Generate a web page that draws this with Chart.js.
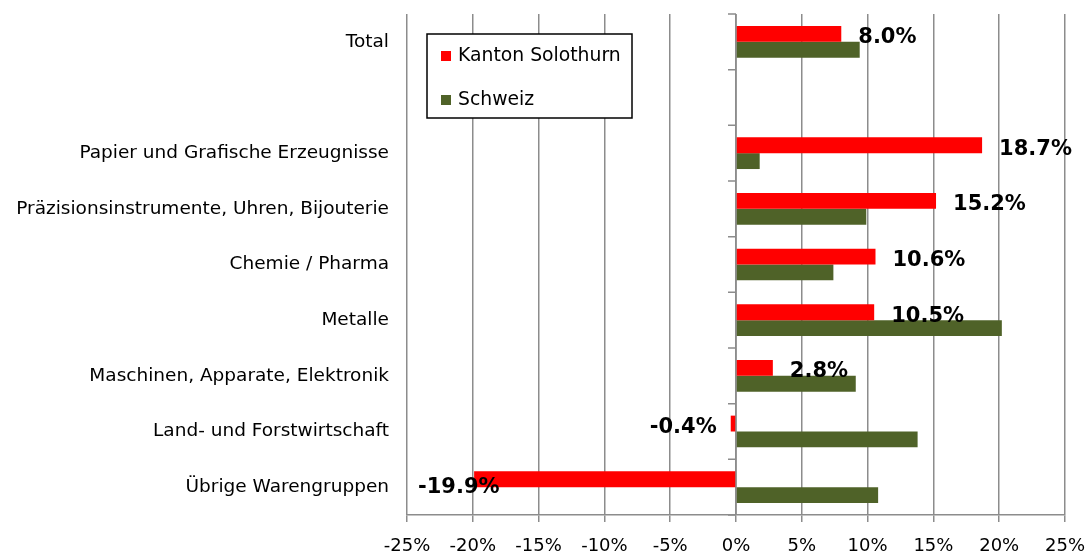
<!DOCTYPE html>
<html>
<head>
<meta charset="utf-8">
<script src="https://cdn.jsdelivr.net/npm/chart.js@4/dist/chart.umd.min.js"></script>
<style>
  html, body { margin: 0; padding: 0; background: #fff; }
  #wrap { width: 1090px; height: 555px; }
</style>
</head>
<body>
<div id="wrap"><canvas id="chart" width="1090" height="555"></canvas></div>
<script>
const categories = [
  "Total",
  "",
  "Papier und Grafische Erzeugnisse",
  "Präzisionsinstrumente, Uhren, Bijouterie",
  "Chemie / Pharma",
  "Metalle",
  "Maschinen, Apparate, Elektronik",
  "Land- und Forstwirtschaft",
  "Übrige Warengruppen",
];
const solothurn = [8.0, null, 18.7, 15.2, 10.6, 10.5, 2.8, -0.4, -19.9];
const schweiz = [9.4, null, 1.8, 9.9, 7.4, 20.2, 9.1, 13.8, 10.8];
const xTicks = [-25, -20, -15, -10, -5, 0, 5, 10, 15, 20, 25];

const FONT = "'DejaVu Sans', sans-serif";
const GRID = "#8c8c8c";

// axis line through zero with small tick marks between the categories
const zeroAxis = {
  id: "zeroAxis",
  beforeDatasetsDraw(chart) {
    const { ctx, chartArea, scales } = chart;
    const x0 = scales.x.getPixelForValue(0);
    ctx.save();
    ctx.strokeStyle = GRID;
    ctx.lineWidth = 1.5;
    ctx.beginPath();
    ctx.moveTo(x0, chartArea.top);
    ctx.lineTo(x0, chartArea.bottom);
    const n = scales.y.ticks.length;
    for (let i = 0; i <= n; i++) {
      const y = scales.y.getPixelForValue(i - 0.5);
      ctx.moveTo(x0 - 8, y);
      ctx.lineTo(x0, y);
    }
    ctx.stroke();
    ctx.restore();
  },
};

// bold value labels next to the Solothurn bars
const valueLabels = {
  id: "valueLabels",
  afterDatasetsDraw(chart) {
    const { ctx, chartArea } = chart;
    const meta = chart.getDatasetMeta(0);
    ctx.save();
    ctx.font = "bold 21px " + FONT;
    ctx.fillStyle = "#000";
    ctx.textBaseline = "middle";
    meta.data.forEach((bar, i) => {
      const v = solothurn[i];
      if (v === null) return;
      const txt = v.toFixed(1) + "%";
      const y = bar.y + 4;
      if (v >= 0) {
        ctx.textAlign = "left";
        ctx.fillText(txt, bar.x + 17, y);
      } else {
        const w = ctx.measureText(txt).width;
        let x = bar.x - 14 - w;
        if (x < chartArea.left + 11) x = chartArea.left + 11;
        ctx.textAlign = "left";
        ctx.fillText(txt, x, v < -5 ? y + 4 : y);
      }
    });
    ctx.restore();
  },
};

// legend box inside the plot
const legendBox = {
  id: "legendBox",
  afterDraw(chart) {
    const { ctx } = chart;
    const bx = 427, by = 34, bw = 205, bh = 84;
    ctx.save();
    ctx.fillStyle = "#fff";
    ctx.fillRect(bx, by, bw, bh);
    ctx.strokeStyle = "#000";
    ctx.lineWidth = 1.5;
    ctx.strokeRect(bx, by, bw, bh);
    ctx.font = "18.8px " + FONT;
    ctx.textBaseline = "middle";
    ctx.textAlign = "left";
    chart.data.datasets.forEach((ds, i) => {
      const cy = by + 22 + i * 44;
      ctx.fillStyle = ds.backgroundColor;
      ctx.fillRect(bx + 14, cy - 5, 10, 10);
      ctx.fillStyle = "#000";
      ctx.fillText(ds.label, bx + 31, cy);
    });
    ctx.restore();
  },
};

new Chart(document.getElementById("chart"), {
  type: "bar",
  data: {
    labels: categories,
    datasets: [
      {
        label: "Kanton Solothurn",
        data: solothurn,
        backgroundColor: "#ff0000",
        categoryPercentage: 0.57,
        barPercentage: 1.0,
      },
      {
        label: "Schweiz",
        data: schweiz,
        backgroundColor: "#4f6228",
        categoryPercentage: 0.57,
        barPercentage: 1.0,
      },
    ],
  },
  options: {
    indexAxis: "y",
    responsive: false,
    animation: false,
    layout: { padding: { top: 14, right: 25, left: 0, bottom: 0 } },
    plugins: {
      legend: { display: false },
      tooltip: { enabled: false },
    },
    scales: {
      x: {
        min: -25,
        max: 25,
        afterBuildTicks: (scale) => {
          scale.ticks = xTicks.map((v) => ({ value: v }));
        },
        afterFit: (scale) => {
          scale.height = 40;
          scale.paddingLeft = 0;
          scale.paddingRight = 0;
        },
        grid: {
          color: GRID,
          lineWidth: 1.5,
          tickLength: 7,
        },
        border: { display: true, color: GRID, width: 1.5 },
        ticks: {
          padding: 14,
          maxRotation: 0,
          color: "#000",
          font: { family: FONT, size: 18 },
          callback: (v) => v + "%",
        },
      },
      y: {
        afterFit: (scale) => {
          scale.width = 407;
          scale.paddingTop = 0;
          scale.paddingBottom = 0;
        },
        grid: { display: false, drawTicks: false },
        border: { display: false },
        ticks: {
          padding: 18,
          autoSkip: false,
          color: "#000",
          font: { family: FONT, size: 18.5 },
        },
      },
    },
  },
  plugins: [zeroAxis, valueLabels, legendBox],
});
</script>
</body>
</html>
